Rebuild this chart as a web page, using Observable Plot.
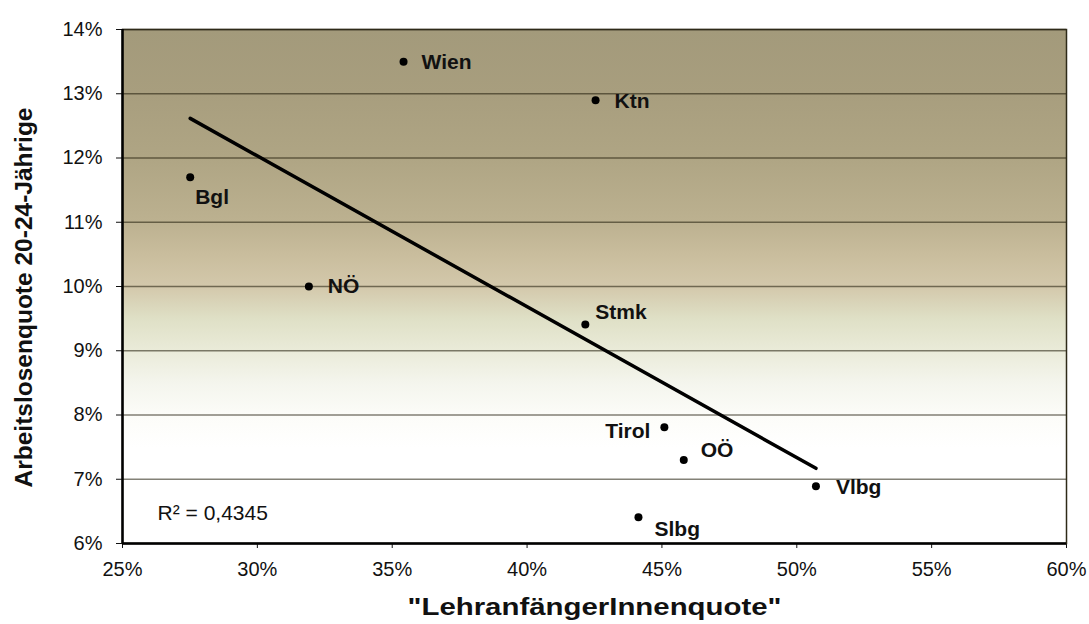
<!DOCTYPE html>
<html>
<head>
<meta charset="utf-8">
<script src="https://cdn.jsdelivr.net/npm/d3@7"></script>
<script src="https://cdn.jsdelivr.net/npm/@observablehq/plot@0.6"></script>
<style>
  html, body { margin: 0; padding: 0; background: #ffffff; }
  #chart { width: 1089px; height: 624px; }
</style>
</head>
<body>
<div id="chart"></div>
<script>
// ---- data ----
const regions = ["Wien", "Ktn", "Bgl", "NÖ", "Stmk", "Tirol", "OÖ", "Vlbg", "Slbg"];
const lehranfaengerQuote = [35.42, 42.54, 27.51, 31.91, 42.16, 45.09, 45.81, 50.71, 44.13];
const arbeitslosenQuote = [13.50, 12.90, 11.70, 10.00, 9.41, 7.81, 7.30, 6.89, 6.41];
const xTicks = [25, 30, 35, 40, 45, 50, 55, 60];
const yTicks = [6, 7, 8, 9, 10, 11, 12, 13, 14];
const xTitle = "\"LehranfängerInnenquote\"";
const yTitle = "Arbeitslosenquote 20-24-Jährige";
const rSquaredLabel = "R² = 0,4345";

// ---- layout / style (not data) ----
const labelPlacement = {
  "Wien":  {dx: 18, dy: 1, anchor: "start"},
  "Ktn":   {dx: 19, dy: 1, anchor: "start"},
  "Bgl":   {dx: 5, dy: 20, anchor: "start"},
  "NÖ":    {dx: 19, dy: 0, anchor: "start"},
  "Stmk":  {dx: 10, dy: -12, anchor: "start"},
  "Tirol": {dx: -14, dy: 4, anchor: "end"},
  "OÖ":    {dx: 17, dy: -10, anchor: "start"},
  "Vlbg":  {dx: 20, dy: 1, anchor: "start"},
  "Slbg":  {dx: 16, dy: 12, anchor: "start"}
};
const gradientStops = [
  [14, "#a39a7b"], [13, "#a89e7e"], [12, "#afa584"], [11, "#bcb190"],
  [10.5, "#c9bd9d"], [10, "#d3c8ab"], [9.5, "#dfe0c6"], [9, "#eaebd9"],
  [8.5, "#f4f5ed"], [8, "#fcfcf8"], [7.5, "#ffffff"], [6, "#ffffff"]
];

const idx = regions.map((_, i) => i);
const font = "'Liberation Sans', Arial, Helvetica, sans-serif";

const labelMarks = idx.map(i => {
  const p = labelPlacement[regions[i]];
  return Plot.text([i], {
    x: j => lehranfaengerQuote[j],
    y: j => arbeitslosenQuote[j],
    text: j => regions[j],
    dx: p.dx, dy: p.dy, textAnchor: p.anchor,
    fontSize: 21, fontWeight: "bold", fill: "#111"
  });
});

const chart = Plot.plot({
  width: 1089,
  height: 624,
  marginLeft: 122,
  marginRight: 23,
  marginTop: 29,
  marginBottom: 81,
  style: {fontFamily: font, fontSize: "20px", color: "#111", background: "#ffffff", overflow: "visible"},
  x: {domain: [25, 60], ticks: xTicks, tickFormat: d => d + "%", tickSize: 5, tickPadding: 13, label: null},
  y: {domain: [6, 14], ticks: yTicks, tickFormat: d => d + "%", tickSize: 6, tickPadding: 14, label: null},
  marks: [
    Plot.frame({fill: "url(#plotBg)", stroke: null}),
    Plot.ruleY(yTicks, {stroke: "#1e1a08", strokeOpacity: 0.55, strokeWidth: 1.6}),
    Plot.frame({stroke: "#2e2a18", strokeWidth: 1.5}),
    Plot.ruleX([xTicks[0]], {stroke: "#000", strokeWidth: 2.5}),
    Plot.ruleY([yTicks[0]], {stroke: "#000", strokeWidth: 2.5}),
    Plot.linearRegressionY(idx, {
      x: i => lehranfaengerQuote[i],
      y: i => arbeitslosenQuote[i],
      ci: 0, stroke: "#000", strokeWidth: 3.5
    }),
    Plot.dot(idx, {
      x: i => lehranfaengerQuote[i],
      y: i => arbeitslosenQuote[i],
      r: 4, fill: "#000", stroke: null
    }),
    ...labelMarks,
    Plot.text([rSquaredLabel], {
      x: 26.3, y: 6.47, text: d => d, textAnchor: "start",
      fontSize: 21, fill: "#111"
    }),
    Plot.text([xTitle], {
      frameAnchor: "bottom", dy: 64, text: d => d,
      textAnchor: "middle", lineAnchor: "middle",
      fontSize: 23, fontWeight: "bold", fill: "#111"
    }),
    Plot.text([yTitle], {
      frameAnchor: "left", dx: -98, dy: 11, rotate: -90, text: d => d,
      textAnchor: "middle", lineAnchor: "middle",
      fontSize: 23, fontWeight: "bold", fill: "#111"
    })
  ]
});

// gradient definition for the plot background
const ns = "http://www.w3.org/2000/svg";
const defs = document.createElementNS(ns, "defs");
const grad = document.createElementNS(ns, "linearGradient");
grad.setAttribute("id", "plotBg");
grad.setAttribute("x1", "0"); grad.setAttribute("x2", "0");
grad.setAttribute("y1", "0"); grad.setAttribute("y2", "1");
for (const [v, c] of gradientStops) {
  const s = document.createElementNS(ns, "stop");
  s.setAttribute("offset", String((14 - v) / 8));
  s.setAttribute("stop-color", c);
  grad.appendChild(s);
}
defs.appendChild(grad);
chart.insertBefore(defs, chart.firstChild);

// stretch axis titles like in the scanned original
chart.querySelectorAll("text").forEach(t => {
  if (t.textContent === xTitle) {
    t.setAttribute("textLength", "374");
    t.setAttribute("lengthAdjust", "spacingAndGlyphs");
  } else if (t.textContent === yTitle) {
    t.setAttribute("textLength", "380");
    t.setAttribute("lengthAdjust", "spacingAndGlyphs");
  }
});

document.getElementById("chart").appendChild(chart);
</script>
</body>
</html>
